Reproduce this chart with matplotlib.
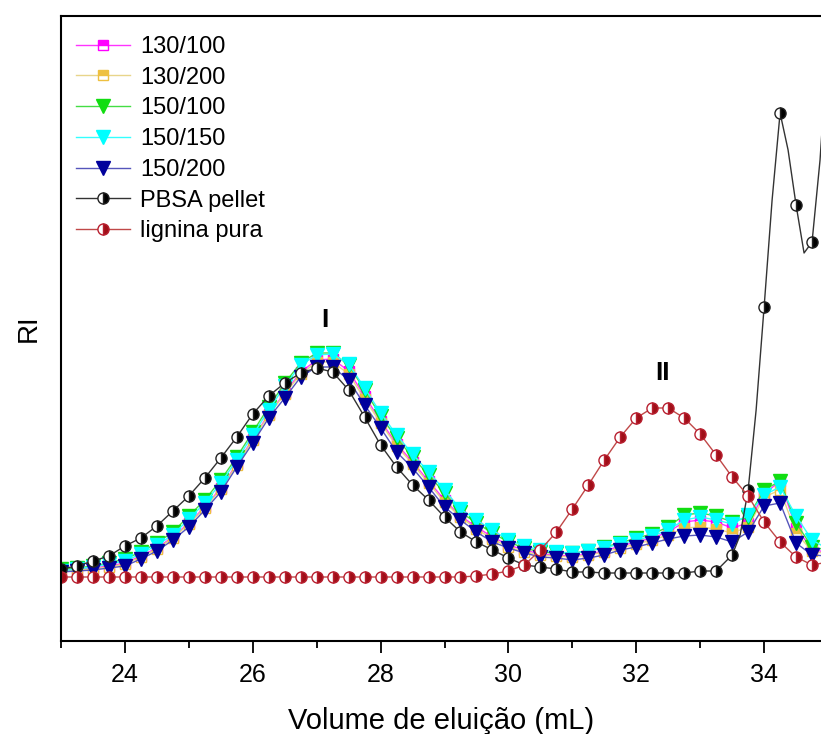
import matplotlib.pyplot as plt
import numpy as np
from matplotlib.ticker import MultipleLocator

plt.rcParams['font.family'] = ['Liberation Sans', 'DejaVu Sans']

# elution volume grid (mL), one reading every 0.25 mL
volume = np.arange(23.0, 35.01, 0.25)

# refractive index signal (arbitrary units)
ri_130_100 = [71, 72, 73, 75, 78, 85, 93, 104, 118, 134, 153, 177, 202, 227, 248, 269, 281,
              282, 270, 245, 220, 197, 179, 160, 141, 125, 114, 104, 96, 91, 87, 86, 85,
              87, 90, 95, 99, 103, 109, 119, 121, 119, 113, 118, 147, 160, 113, 92, 88]
ri_130_200 = [70, 71, 72, 74, 77, 84, 92, 103, 117, 133, 152, 176, 201, 226, 247, 267, 279,
              279, 267, 242, 218, 195, 177, 158, 139, 124, 112, 102, 94, 89, 86, 85, 84,
              86, 89, 93, 97, 101, 106, 113, 114, 112, 108, 114, 144, 151, 108, 90, 87]
ri_150_100 = [72, 73, 75, 78, 82, 89, 98, 109, 125, 141, 161, 184, 209, 234, 258, 278, 288,
              288, 276, 251, 225, 203, 184, 166, 148, 129, 118, 108, 99, 93, 89, 88, 88,
              90, 94, 98, 103, 107, 114, 126, 128, 125, 119, 124, 151, 160, 118, 94, 91]
ri_150_150 = [70, 72, 74, 77, 80, 87, 96, 106, 122, 138, 158, 181, 206, 231, 255, 276, 286,
              287, 277, 253, 228, 206, 187, 169, 151, 132, 121, 111, 101, 95, 91, 89, 88,
              90, 93, 97, 101, 105, 111, 121, 124, 121, 117, 126, 146, 154, 125, 101, 92]
ri_150_200 = [69, 70, 71, 73, 75, 82, 90, 101, 114, 131, 149, 174, 198, 223, 243, 264, 274,
              274, 261, 236, 213, 189, 173, 154, 134, 121, 109, 99, 93, 88, 84, 83, 81,
              83, 86, 91, 94, 98, 102, 105, 106, 104, 99, 109, 135, 138, 98, 86, 85]
ri_lignina = [64, 64, 64, 64, 64, 64, 64, 64, 64, 64, 64, 64, 64, 64, 64, 64, 64,
              64, 64, 64, 64, 64, 64, 64, 64, 64, 65, 67, 70, 76, 91, 109, 132,
              156, 181, 204, 223, 233, 233, 223, 207, 186, 164, 145, 119, 99, 84, 76, 79]

# PBSA pellet: readings on the 0.25 mL grid plus a finer trace over the sharp peak
pbsa_volume = np.arange(23.0, 34.76, 0.25)
ri_pbsa = [72, 75, 80, 85, 95, 103, 115, 130, 145, 163, 183, 204, 227, 245, 258, 268, 273,
           269, 251, 224, 196, 174, 156, 141, 124, 109, 99, 91, 83, 76, 74, 72, 69,
           69, 68, 68, 68, 68, 68, 68, 70, 70, 86, 151, 334, 528, 436, 399]
pbsa_trace_volume = [33.625, 33.875, 34.125, 34.375, 34.625, 34.875, 35.0]
pbsa_trace_ri = [106, 231, 441, 491, 388, 481, 601]

fig = plt.figure(figsize=(8.21, 7.34), dpi=100)
ax = fig.add_axes([61 / 821, 93 / 734, 760 / 821, 625 / 734])

common = dict(lw=1.0, markeredgewidth=1.0)
ax.plot(volume, ri_130_100, color='#ff33ff', marker='s', ms=7, fillstyle='top',
        mfc='#ff00ff', mfcalt='white', mec='#ff00ff', label='130/100', **common)
ax.plot(volume, ri_130_200, color='#e8d58a', marker='s', ms=7, fillstyle='top',
        mfc='#eec040', mfcalt='white', mec='#eec040', label='130/200', **common)
ax.plot(volume, ri_150_100, color='#44dd44', marker='v', ms=9.5,
        mfc='#11dd11', mec='#11dd11', label='150/100', **common)
ax.plot(volume, ri_150_150, color='#33ffff', marker='v', ms=9.5,
        mfc='#00ffff', mec='#00ffff', label='150/150', **common)
ax.plot(volume, ri_150_200, color='#5555bb', marker='v', ms=9.5,
        mfc='#00009c', mec='#00009c', label='150/200', **common)

# merge the grid readings and the finer trace, markers only on the grid
pbsa_x = np.concatenate([pbsa_volume, pbsa_trace_volume])
pbsa_y = np.concatenate([ri_pbsa, pbsa_trace_ri])
order = np.argsort(pbsa_x)
pbsa_x, pbsa_y = pbsa_x[order], pbsa_y[order]
on_grid = np.isclose((pbsa_x * 4) % 1, 0) & (pbsa_x < 34.8)
ax.plot(pbsa_x, pbsa_y, color='#333333', marker='o', ms=8, fillstyle='right',
        mfc='black', mfcalt='white', mec='#222222', markevery=list(np.where(on_grid)[0]),
        label='PBSA pellet', **common)

ax.plot(volume, ri_lignina, color='#c04848', marker='o', ms=8, fillstyle='right',
        mfc='#a00f18', mfcalt='white', mec='#b82030', label='lignina pura', **common)

ax.text(27.125, 321, 'I', fontsize=19, fontweight='bold', ha='center', va='center')
ax.text(32.41, 268, 'II', fontsize=19, fontweight='bold', ha='center', va='center')

ax.set_xlim(23, 34.89)
ax.set_ylim(0, 625)
ax.xaxis.set_major_locator(MultipleLocator(2))
ax.xaxis.set_minor_locator(MultipleLocator(1))
ax.tick_params(axis='x', which='major', direction='out', length=8.5, width=1.3,
               labelsize=18, pad=7)
ax.tick_params(axis='x', which='minor', direction='out', length=5, width=1.3)
ax.set_yticks([])
ax.spines['right'].set_visible(False)
for side in ('left', 'top', 'bottom'):
    ax.spines[side].set_linewidth(1.5)

ax.set_xlabel('Volume de eluição (mL)', fontsize=21, labelpad=15)
ax.set_ylabel('RI', fontsize=20, labelpad=14)

ax.legend(loc='upper left', bbox_to_anchor=(15 / 760, 1 - 20 / 625), frameon=False,
          fontsize=17, handlelength=2.3, handletextpad=0.4, labelspacing=0.37,
          borderpad=0, borderaxespad=0)

fig.savefig('out.png', dpi=100)
